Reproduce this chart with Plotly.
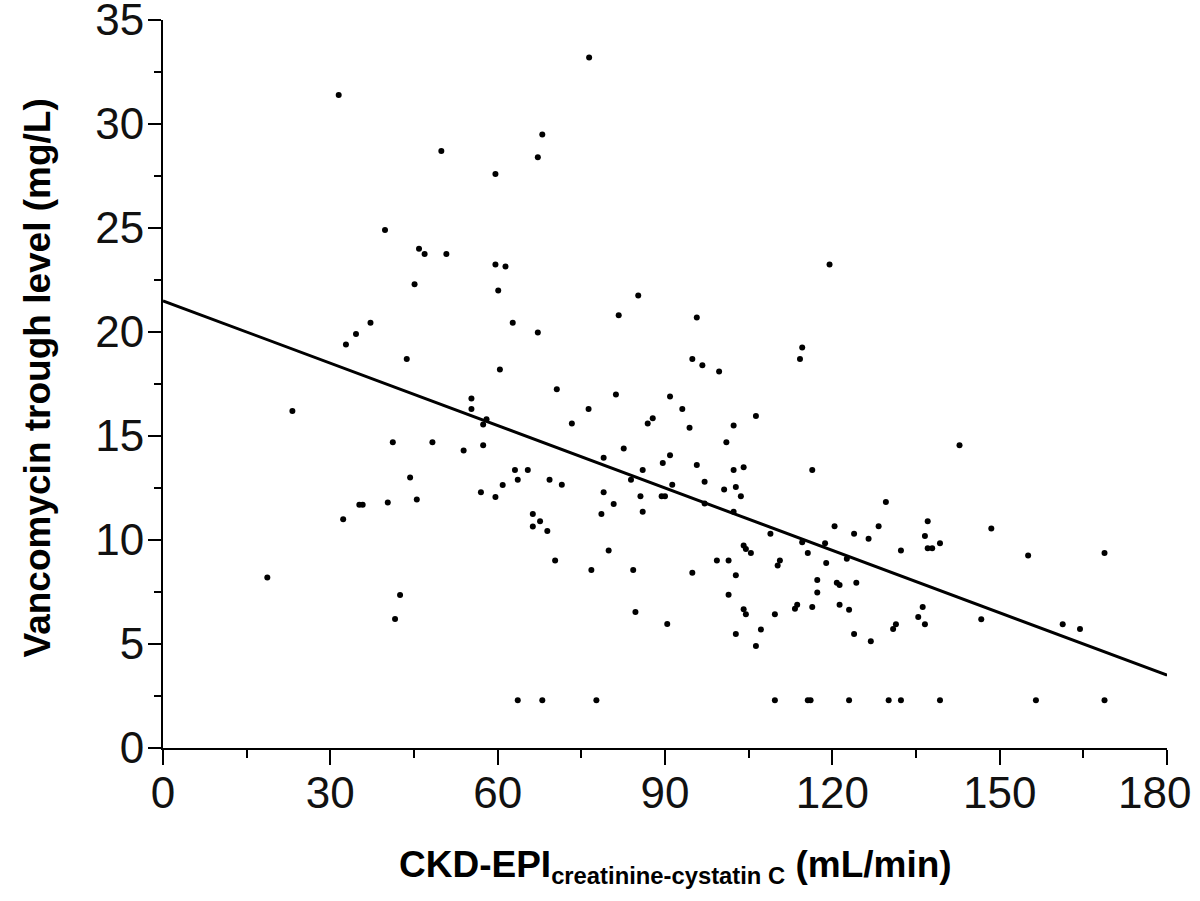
import plotly.graph_objects as go

# Scatter data: CKD-EPI (mL/min) vs vancomycin trough (mg/L)
egfr = [18.7, 23.2, 31.5, 32.3, 32.8, 34.6, 35.2, 35.8, 37.2, 39.8,
        40.3, 41.2, 41.6, 42.5, 43.7, 44.3, 45.1, 45.5, 45.9, 46.9,
        48.3, 49.9, 50.8, 53.9, 55.3, 55.3, 57.4, 58.0, 57.4, 57.0,
        59.6, 59.6, 59.6, 61.4, 60.1, 60.4, 60.9, 62.7, 63.1, 65.4,
        63.6, 63.6, 66.3, 67.6, 66.3, 68.9, 67.2, 67.2, 68.0, 68.0,
        69.3, 70.3, 70.6, 71.5, 73.3, 76.3, 76.4, 76.8, 77.7, 78.6,
        79.0, 79.0, 79.9, 80.8, 81.2, 81.7, 82.6, 83.9, 84.3, 84.7,
        85.2, 85.6, 86.0, 86.0, 86.9, 87.8, 89.4, 90.0, 89.6, 90.4,
        90.9, 90.9, 91.3, 93.1, 94.4, 94.9, 94.9, 95.7, 95.7, 96.7,
        97.1, 97.1, 99.3, 99.7, 100.6, 101.0, 101.4, 101.4, 102.3, 102.3,
        102.3, 102.7, 102.7, 102.7, 103.6, 104.1, 104.1, 104.5, 105.4, 104.1,
        104.5, 106.3, 106.3, 107.2, 108.9, 109.7, 109.7, 110.6, 110.2, 113.7,
        113.3, 114.2, 114.6, 114.6, 115.6, 115.6, 116.1, 116.4, 116.4, 117.3,
        117.3, 118.7, 118.9, 119.5, 120.4, 120.8, 121.3, 121.3, 122.6, 123.0,
        123.0, 123.9, 123.9, 124.3, 126.5, 126.9, 128.3, 129.6, 130.1, 130.9,
        131.4, 132.3, 132.3, 135.4, 136.2, 136.6, 136.6, 137.1, 137.1, 137.9,
        139.3, 139.3, 142.8, 146.7, 148.5, 155.1, 156.5, 161.3, 164.4, 168.8,
        168.8]
trough = [8.2, 16.2, 31.4, 11.0, 19.4, 19.9, 11.7, 11.7, 20.45, 24.9,
          11.8, 14.7, 6.2, 7.35, 18.7, 13.0, 22.3, 11.95, 24.0, 23.75,
          14.7, 28.7, 23.75, 14.3, 16.8, 16.3, 15.55, 15.8, 14.55, 12.3,
          12.07, 27.6, 23.25, 23.15, 22.0, 18.2, 12.65, 20.45, 13.37, 13.37,
          12.9, 2.3, 11.25, 10.9, 10.65, 10.43, 19.97, 28.4, 29.5, 2.3,
          12.9, 9.02, 17.25, 12.66, 15.6, 16.3, 33.2, 8.56, 2.3, 11.25,
          13.96, 12.3, 9.49, 11.73, 17.0, 20.8, 14.4, 12.9, 8.56, 6.54,
          21.75, 12.1, 13.37, 11.36, 15.6, 15.85, 12.1, 12.1, 13.7, 5.96,
          16.9, 14.07, 12.66, 16.3, 15.4, 18.7, 8.43, 20.7, 13.6, 18.4,
          12.8, 11.76, 9.02, 18.1, 12.43, 14.7, 9.02, 7.37, 15.5, 13.37,
          11.36, 12.55, 8.3, 5.48, 12.1, 13.5, 9.73, 9.57, 9.38, 6.67,
          6.43, 15.96, 4.9, 5.7, 10.3, 6.43, 2.3, 9.02, 8.78, 6.89,
          6.7, 18.7, 19.25, 9.89, 9.38, 2.3, 2.3, 13.37, 6.78, 8.08,
          7.48, 9.84, 8.9, 23.25, 10.66, 7.95, 7.84, 6.89, 9.1, 6.65,
          2.3, 10.3, 5.48, 7.95, 10.06, 5.13, 10.66, 11.83, 2.3, 5.72,
          5.95, 9.49, 2.3, 6.3, 6.78, 5.95, 10.19, 10.9, 9.6, 9.6,
          9.84, 2.3, 14.55, 6.19, 10.55, 9.25, 2.3, 5.95, 5.72, 9.38,
          2.3]

# Regression line (intercept / slope)
fit_intercept = 21.5
fit_slope = -0.1
fit_x = [0, 180]
fit_y = [fit_intercept + fit_slope * v for v in fit_x]

x_ticks = [0, 30, 60, 90, 120, 150, 180]
x_tick_labels = ["0", "30", "60", "90", "120", "150", "180\u00a0\u00a0"]
x_minor = [15, 45, 75, 105, 135, 165]
y_ticks = [0, 5, 10, 15, 20, 25, 30, 35]
y_minor = [2.5, 7.5, 12.5, 17.5, 22.5, 27.5, 32.5]

x_title = ("<b>CKD-EPI<span style='font-size:34px'><sub>creatinine-cystatin C</sub></span>"
           " (mL/min)</b>")
y_title = "<b>Vancomycin trough level (mg/L)</b>"

FONT = "Liberation Sans, Arial, sans-serif"

fig = go.Figure()
fig.add_trace(go.Scatter(x=egfr, y=trough, mode="markers",
                         marker=dict(color="black", size=6),
                         showlegend=False))
fig.add_trace(go.Scatter(x=fit_x, y=fit_y, mode="lines",
                         line=dict(color="black", width=3),
                         showlegend=False))

axis_common = dict(ticks="outside", tickwidth=2, tickcolor="black",
                   showline=True, linecolor="black", linewidth=2,
                   showgrid=False, zeroline=False, automargin=False,
                   ticklabeloverflow="allow",
                   tickfont=dict(size=44, family=FONT, color="#111"))

fig.update_layout(
    width=1200, height=901,
    margin=dict(l=163, r=33, t=20, b=153),
    paper_bgcolor="white", plot_bgcolor="white",
    font=dict(family=FONT, color="black"),
    xaxis=dict(range=[0, 180], tickvals=x_ticks, ticktext=x_tick_labels, ticklen=15,
               ticklabelstandoff=-10,
               minor=dict(tickvals=x_minor, ticks="outside", ticklen=8,
                          tickwidth=2, tickcolor="black"),
               **axis_common),
    yaxis=dict(range=[0, 35], tickvals=y_ticks, ticklen=13,
               ticklabelstandoff=-5,
               minor=dict(tickvals=y_minor, ticks="outside", ticklen=7,
                          tickwidth=2, tickcolor="black"),
               **axis_common),
    annotations=[
        dict(text=x_title, xref="paper", yref="paper", x=0.51, y=-0.163,
             xanchor="center", yanchor="middle", showarrow=False,
             font=dict(size=37, family=FONT, color="black")),
        dict(text=y_title, xref="paper", yref="paper", x=-0.1255, y=0.509,
             xanchor="center", yanchor="middle", textangle=-90, showarrow=False,
             font=dict(size=37, family=FONT, color="black")),
    ],
)

fig.write_html("out.html",
               config={"displayModeBar": False},
               post_script="document.body.style.margin='0';")
